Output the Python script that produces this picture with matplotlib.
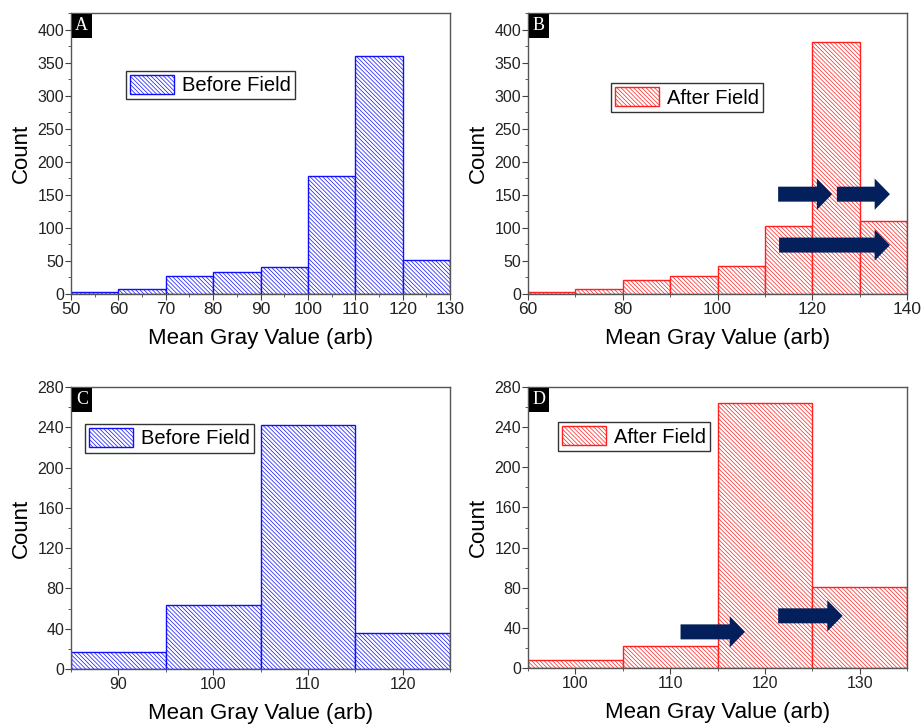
import matplotlib
matplotlib.use("Agg")
import matplotlib.pyplot as plt
from matplotlib.patches import Patch, Rectangle, FancyArrowPatch, ArrowStyle
from matplotlib.ticker import MultipleLocator

plt.rcParams['font.family'] = ['Liberation Sans', 'DejaVu Sans']
plt.rcParams['hatch.linewidth'] = 0.5

# ---- data ----
bins_a = [50, 60, 70, 80, 90, 100, 110, 120]
counts_a = [3, 8, 27, 33, 41, 178, 360, 52]
bins_b = [60, 70, 80, 90, 100, 110, 120, 130]
counts_b = [3, 8, 21, 27, 43, 103, 381, 111]
bins_c = [85, 95, 105, 115]
counts_c = [17, 64, 242, 36]
bins_d = [95, 105, 115, 125]
counts_d = [8, 22, 264, 81]

panel_letters = ['A', 'B', 'C', 'D']
legend_labels = ['Before Field', 'After Field', 'Before Field', 'After Field']
xlabel = 'Mean Gray Value (arb)'
ylabel = 'Count'

# arrow annotations (start x, end x, y) in data units
arrows_b = [(112.8, 124.2, 151), (125.2, 136.4, 151), (113.0, 136.4, 74)]
arrows_d = [(111.1, 117.9, 36), (121.4, 128.2, 52)]

BLUE = '#1010ff'
RED = '#ff2020'
NAVY = '#03205c'
HATCH = '\\' * 8

W, H = 923, 725
fig = plt.figure(figsize=(W / 100, H / 100), dpi=100)


def ax_at(l, r, t, b):
    return fig.add_axes([l / W, 1 - b / H, (r - l) / W, (b - t) / H])


axA = ax_at(71, 450, 13, 294)
axB = ax_at(528, 907, 13, 294)
axC = ax_at(71, 450, 387, 669)
axD = ax_at(528, 907, 387, 668)

specs = [
    (axA, bins_a, counts_a, BLUE, (50, 130), (0, 425), 10, 5, 50, 25, (0.145, 0.794), 12.5),
    (axB, bins_b, counts_b, RED, (60, 140), (0, 425), 20, 10, 50, 25, (0.219, 0.751), 12.5),
    (axC, bins_c, counts_c, BLUE, (85, 125), (0, 280), 10, 5, 40, 20, (0.037, 0.869), 11.5),
    (axD, bins_d, counts_d, RED, (95, 135), (0, 280), 10, 5, 40, 20, (0.079, 0.875), 11.5),
]

width = 10
for i, (ax, bins, counts, col, xl, yl, xmaj, xmin, ymaj, ymin, legpos, xfs) in enumerate(specs):
    ax.bar(bins, counts, width=width, align='edge', facecolor='white',
           edgecolor=col, hatch=HATCH, linewidth=1.0, zorder=2)
    ax.set_xlim(*xl)
    ax.set_ylim(*yl)
    ax.xaxis.set_major_locator(MultipleLocator(xmaj))
    ax.xaxis.set_minor_locator(MultipleLocator(xmin))
    ax.yaxis.set_major_locator(MultipleLocator(ymaj))
    ax.yaxis.set_minor_locator(MultipleLocator(ymin))
    ax.tick_params(axis='both', which='major', direction='out', length=4, width=0.8,
                   color='#444444', labelcolor='#222222')
    ax.tick_params(axis='both', which='minor', direction='out', length=2, width=0.6,
                   color='#444444')
    ax.tick_params(axis='x', labelsize=xfs, pad=2)
    ax.tick_params(axis='y', labelsize=11.5, pad=1)
    for s in ax.spines.values():
        s.set_color('#555555')
        s.set_linewidth(1.0)
    ax.set_xlabel(xlabel, fontsize=16, labelpad=8)
    ax.set_ylabel(ylabel, fontsize=16, labelpad=4)

    handle = Patch(facecolor='white', edgecolor=col, hatch=HATCH, linewidth=1.0)
    leg = ax.legend([handle], [legend_labels[i]], loc='upper left', bbox_to_anchor=legpos,
                    fontsize=14.5, frameon=True, fancybox=False, edgecolor='#333333',
                    framealpha=1, borderpad=0.2, handlelength=2.2, handleheight=1.1,
                    handletextpad=0.4, borderaxespad=0)
    leg.get_frame().set_linewidth(1.0)

    # panel letter box
    bw, bh = 20 / 379, 24 / 281
    ax.add_patch(Rectangle((0.002, 1 - bh - 0.003), bw, bh, transform=ax.transAxes,
                           facecolor='black', edgecolor='none', zorder=5, clip_on=False))
    ax.text(0.002 + bw / 2, 1 - bh / 2 - 0.003, panel_letters[i], transform=ax.transAxes,
            ha='center', va='center', color='white', fontsize=13,
            family=['Liberation Serif', 'DejaVu Serif'], zorder=6)


def add_arrows(ax, arrows):
    style = ArrowStyle.Simple(head_length=11, head_width=22.5, tail_width=10.8)
    for x0, x1, y in arrows:
        p = FancyArrowPatch((x0, y), (x1, y), arrowstyle=style, mutation_scale=1,
                            facecolor=NAVY, edgecolor='none', shrinkA=0, shrinkB=0,
                            zorder=7)
        ax.add_patch(p)


add_arrows(axB, arrows_b)
add_arrows(axD, arrows_d)

fig.savefig('out.png', dpi=100)
